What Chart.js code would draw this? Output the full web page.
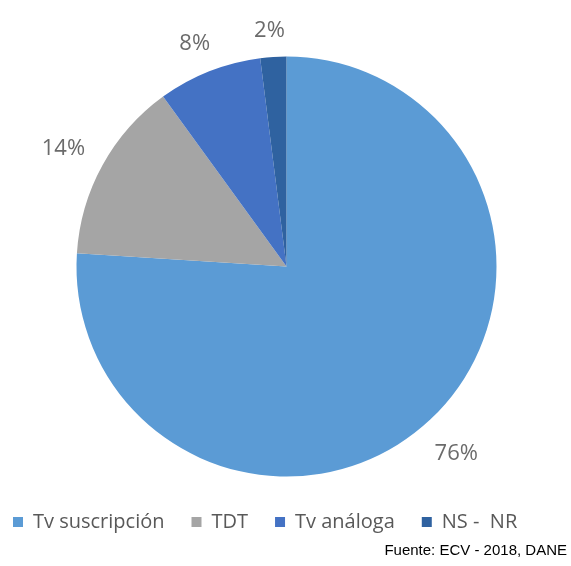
<!DOCTYPE html>
<html>
<head>
<meta charset="utf-8">
<script src="https://cdn.jsdelivr.net/npm/chart.js@4/dist/chart.umd.min.js"></script>
<style>
  html, body { margin: 0; padding: 0; background: #fff; }
  #wrap { width: 571px; height: 566px; }
</style>
</head>
<body>
<div id="wrap"><canvas id="tvChart" width="571" height="566"></canvas></div>
<script>
// Datos del grafico
const categorias = ['Tv suscripción', 'TDT', 'Tv análoga', 'NS -  NR'];
const porcentajes = [76, 14, 8, 2];
const colores = ['#5B9BD5', '#A5A5A5', '#4472C4', '#2F62A0'];
const fuente = 'Fuente: ECV - 2018, DANE';

// Etiquetas de porcentaje fuera de cada porcion
const etiquetasFuera = {
    id: 'etiquetasFuera',
    afterDatasetsDraw(chart) {
        const ctx = chart.ctx;
        const meta = chart.getDatasetMeta(0);
        ctx.save();
        ctx.font = '22px "Open Sans"';
        ctx.fillStyle = '#6b6b6b';
        ctx.textAlign = 'center';
        ctx.textBaseline = 'middle';
        meta.data.forEach((arc, i) => {
            const p = arc.getProps(['x', 'y', 'startAngle', 'endAngle', 'outerRadius'], true);
            const ang = (p.startAngle + p.endAngle) / 2;
            const txt = porcentajes[i] + '%';
            const w = ctx.measureText(txt).width;
            const h = 22;
            const cos = Math.cos(ang), sin = Math.sin(ang);
            const d = p.outerRadius + 18 + Math.abs(cos) * w / 2 + Math.abs(sin) * h / 2;
            ctx.fillText(txt, p.x + cos * d - 2, p.y + sin * d + 4);
        });
        ctx.restore();
    }
};

const ctx = document.getElementById('tvChart').getContext('2d');
const tvChart = new Chart(ctx, {
    type: 'pie',
    data: {
        labels: categorias,
        datasets: [{
            data: porcentajes,
            backgroundColor: colores,
            borderWidth: 0,
            radius: 210
        }]
    },
    options: {
        responsive: false,
        animation: false,
        layout: {
            padding: { top: 28, left: 6, right: 4, bottom: 0 }
        },
        plugins: {
            tooltip: { enabled: false },
            legend: {
                position: 'bottom',
                align: 'start',
                labels: {
                    boxWidth: 10,
                    boxHeight: 10,
                    padding: 7,
                    color: '#595959',
                    font: { family: '"Open Sans"', size: 20 },
                    generateLabels(chart) {
                        const items = Chart.overrides.pie.plugins.legend.labels.generateLabels(chart);
                        items.forEach((it, i) => {
                            if (i < items.length - 1) it.text = it.text + '\u2003';
                        });
                        return items;
                    }
                }
            },
            subtitle: {
                display: true,
                text: fuente,
                position: 'bottom',
                align: 'end',
                color: '#000',
                font: { family: '"Liberation Sans", Arial', size: 15, weight: 'normal' },
                padding: { top: 0, bottom: 6 }
            }
        }
    },
    plugins: [etiquetasFuera]
});
</script>
</body>
</html>
